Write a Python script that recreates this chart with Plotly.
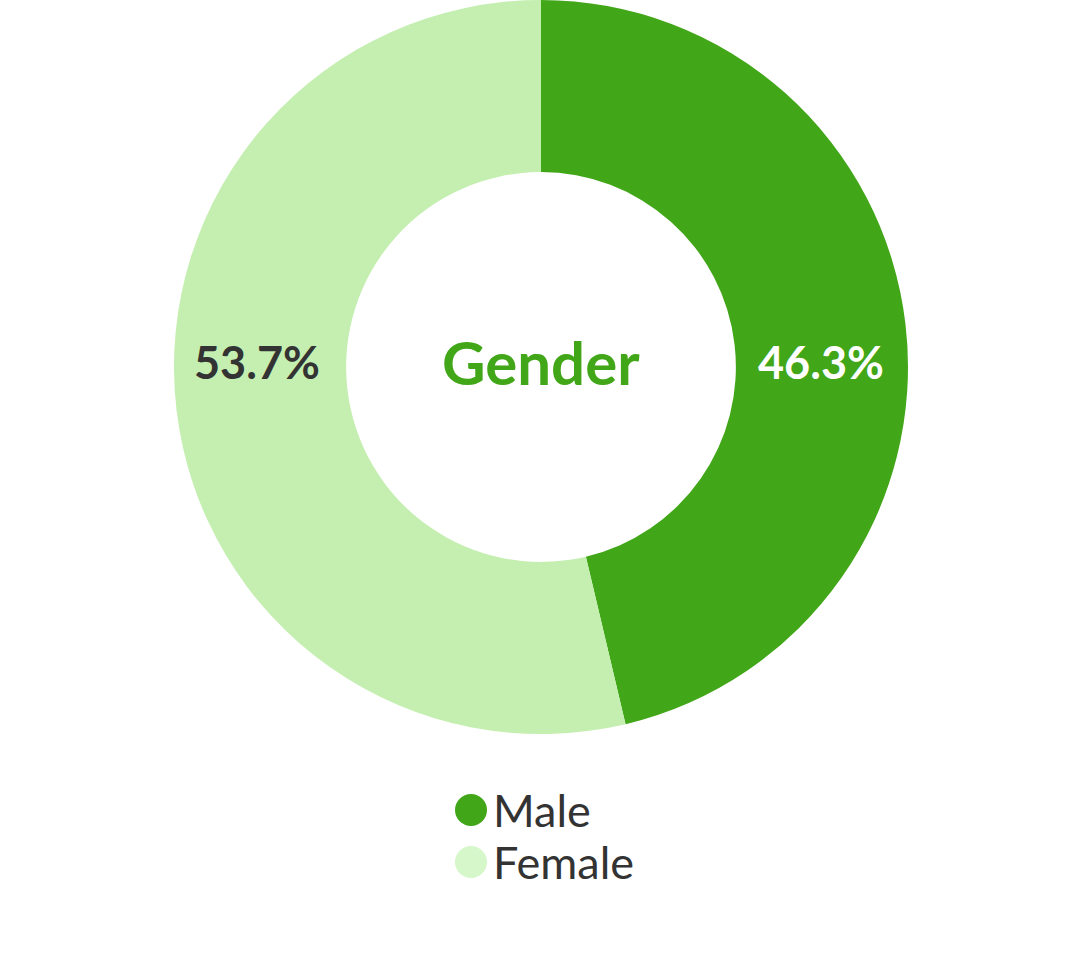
import plotly.graph_objects as go

categories = ["Male", "Female"]
values = [46.3, 53.7]
slice_colors = ["#41a618", "#c4efb0"]
legend_colors = ["#41a618", "#d5f7c9"]
label_colors = ["#ffffff", "#333333"]
center_title = "Gender"

W, H = 1084, 978
cx, cy, R = 541, 367, 367

fig = go.Figure()
fig.add_trace(go.Pie(
    labels=categories,
    values=values,
    hole=0.531,
    sort=False,
    direction="clockwise",
    rotation=0,
    marker=dict(colors=slice_colors, line=dict(width=0)),
    textinfo="none",
    hoverinfo="label+percent",
    showlegend=False,
    domain=dict(x=[(cx - R) / W, (cx + R) / W], y=[1 - (cy + R) / H, 1 - (cy - R) / H]),
))

font_fam = "Lato, 'Open Sans', sans-serif"
annotations = []
shapes = []
# percentage labels
label_x = [821, 257]
for i, (cat, v) in enumerate(zip(categories, values)):
    annotations.append(dict(
        x=label_x[i] / W, y=1 - 362 / H, xref="paper", yref="paper",
        text=f"<b>{v:.1f}%</b>", showarrow=False,
        font=dict(family=font_fam, size=45, color=label_colors[i]),
        xanchor="center", yanchor="middle",
    ))
# center title
annotations.append(dict(
    x=cx / W, y=1 - 362 / H, xref="paper", yref="paper",
    text=f"<b>{center_title}</b>", showarrow=False,
    font=dict(family=font_fam, size=60, color="#41a618"),
    xanchor="center", yanchor="middle",
))
# custom legend
leg_y = [810, 862]
for i, cat in enumerate(categories):
    y = leg_y[i]
    shapes.append(dict(
        type="circle", xref="paper", yref="paper",
        x0=(471 - 16) / W, x1=(471 + 16) / W,
        y0=1 - (y + 16) / H, y1=1 - (y - 16) / H,
        fillcolor=legend_colors[i], line=dict(width=0),
    ))
    annotations.append(dict(
        x=491 / W, y=1 - y / H, xref="paper", yref="paper",
        text=cat, showarrow=False,
        font=dict(family=font_fam, size=45, color="#333333"),
        xanchor="left", yanchor="middle",
    ))

fig.update_layout(
    width=W, height=H,
    margin=dict(l=0, r=0, t=0, b=0),
    paper_bgcolor="white",
    plot_bgcolor="white",
    annotations=annotations,
    shapes=shapes,
    showlegend=False,
)

fig.write_html(
    "out.html",
    config={"displayModeBar": False},
    post_script="document.body.style.margin='0';",
)
